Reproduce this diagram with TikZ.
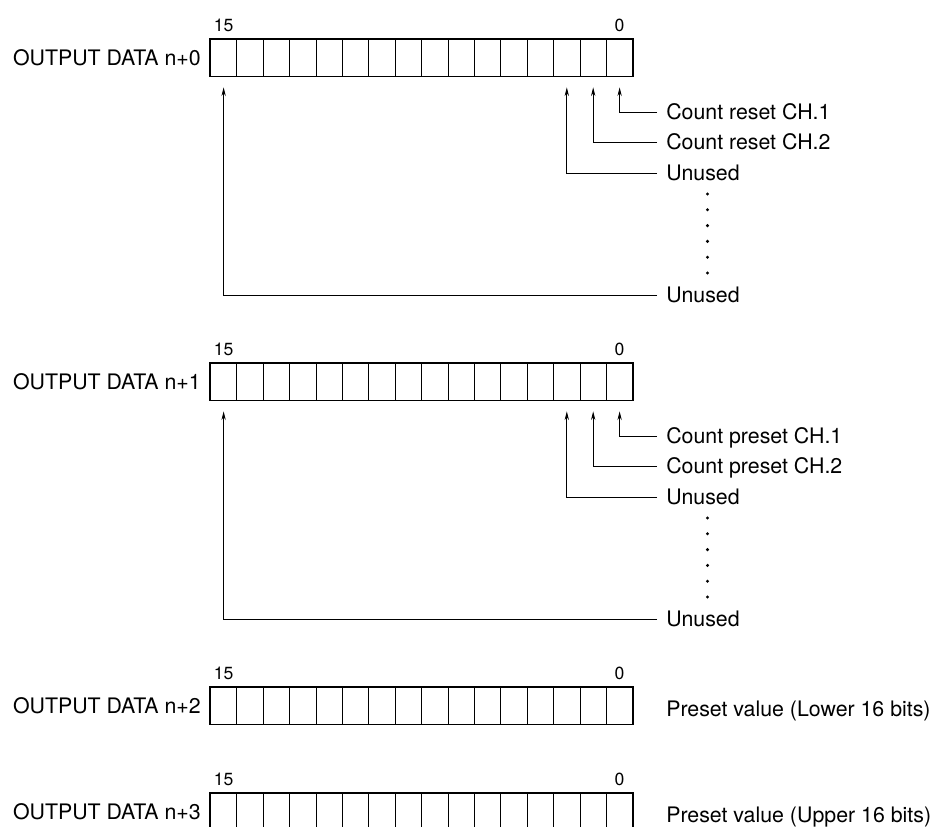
\documentclass[tikz,border=0pt]{standalone}
\usepackage{fontspec}
\setmainfont{TeX Gyre Heros}
\usetikzlibrary{arrows.meta}
\tikzset{
  cell/.style={draw, line width=0.6pt, minimum width=19.8pt, minimum height=27.75pt, inner sep=0pt, anchor=north west},
  frame/.style={draw, line width=1pt},
  wire/.style={draw, line width=0.65pt},
  arr/.style={wire, -{Stealth[length=6.5pt,width=3.2pt]}, shorten <=6.75pt, shorten >=7.9pt},
  lbl/.style={font=\fontsize{16}{18}\selectfont, inner sep=0pt, text height=11.5pt, text depth=0pt},
  bitno/.style={font=\fontsize{13.2}{15}\selectfont, inner sep=0pt},
  dot/.style={circle, fill, inner sep=0pt, minimum size=2.5pt}
}
\begin{document}
\begin{tikzpicture}[x=0.75pt, y=-0.75pt]
  \useasboundingbox (0,0) rectangle (934,827);

  % the four registers, bit 15 on the left
  \foreach \r/\ty in {0/39,1/363,2/687,3/793} {
    \foreach \b in {0,...,15}
      \node[cell] (r\r-\b) at ({210+(15-\b)*26.4},\ty) {};
    \draw[frame] (r\r-15.north west) rectangle (r\r-0.south east);
    \node[lbl, left=6.75pt] (name\r) at (r\r-15.west) {OUTPUT DATA n+\r};
    \node[bitno, above=5.5pt] (hi\r) at (r\r-15.north) {15};
    \node[bitno, above=5.5pt] (lo\r) at (r\r-0.north) {0};
  }

  % bit assignments of n+0 and n+1
  \foreach \r/\dy/\what in {0/0/reset,1/324/preset} {
    \node[lbl, anchor=west] (ch1-\r) at (666,112+\dy) {Count \what{} CH.1};
    \node[lbl, anchor=west] (ch2-\r) at (666,142+\dy) {Count \what{} CH.2};
    \node[lbl, anchor=west] (un2-\r) at (666,173+\dy) {Unused};
    \node[lbl, anchor=west] (un15-\r) at (666,295+\dy) {Unused};
    \foreach \k in {0,...,5}
      \node[dot] (dot\r-\k) at (707.5,{194+15.8*\k+\dy}) {};

    \draw[arr] (ch1-\r.west) -| (r\r-0.south);
    \draw[arr] (ch2-\r.west) -| (r\r-1.south);
    \draw[arr] (un2-\r.west) -| (r\r-2.south);
    \draw[arr] (un15-\r.west) -| (r\r-15.south);
  }

  \node[lbl, anchor=west] (pv2) at (666,709) {Preset value (Lower 16 bits)};
  \node[lbl, anchor=west] (pv3) at (666,815) {Preset value (Upper 16 bits)};
\end{tikzpicture}
\end{document}
